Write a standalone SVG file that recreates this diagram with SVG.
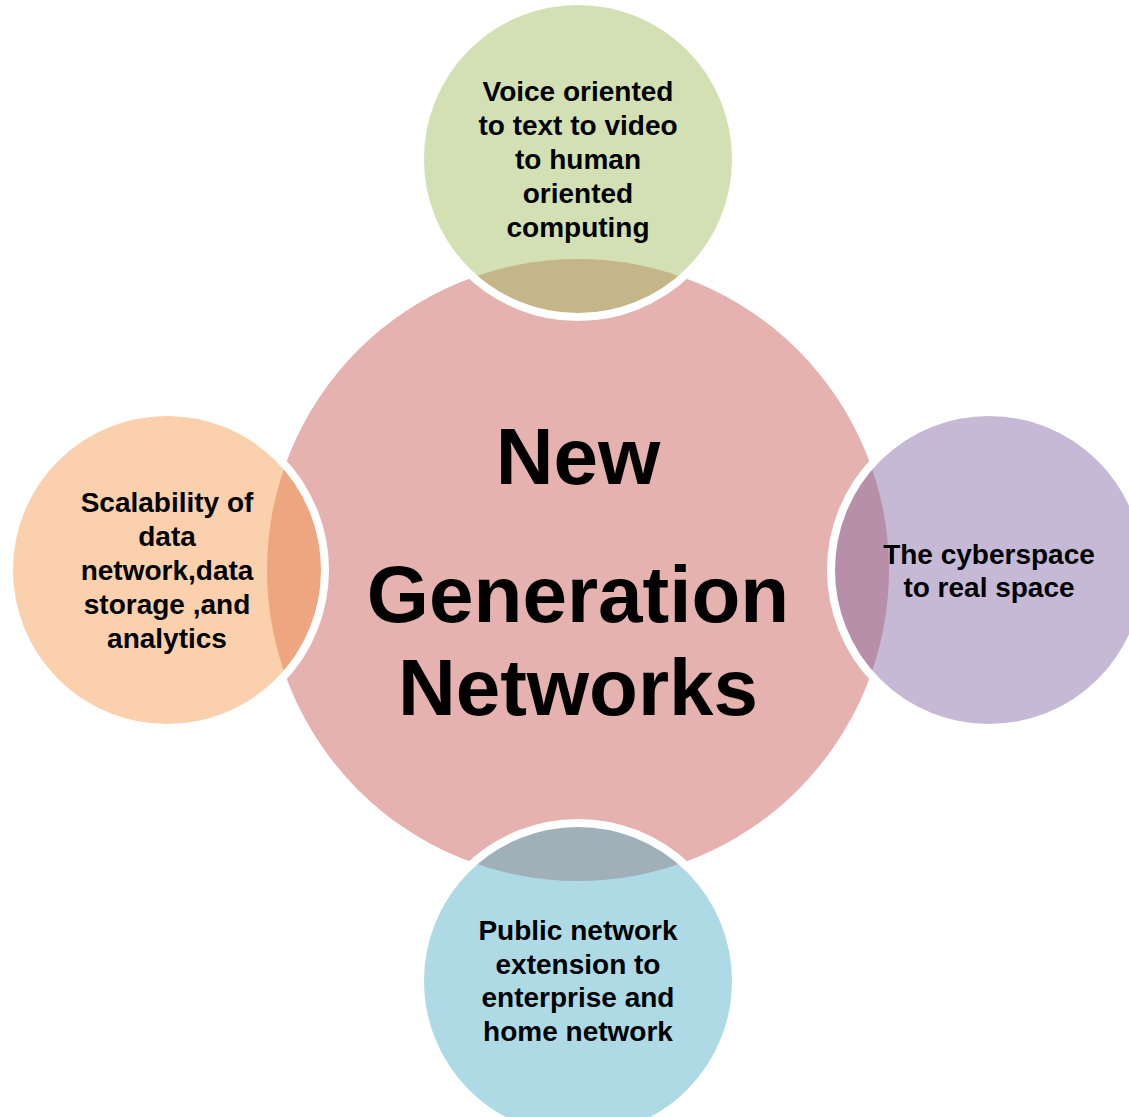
<svg xmlns="http://www.w3.org/2000/svg" width="1129" height="1117" viewBox="0 0 1129 1117">
<style>
.sat{stroke:#ffffff;stroke-width:8;fill-opacity:0.45}
.t{font-family:"Liberation Sans",Arial,sans-serif;font-weight:bold;font-size:28px;fill:#000;text-anchor:middle}
.big{font-family:"Liberation Sans",Arial,sans-serif;font-weight:bold;font-size:80px;fill:#000;text-anchor:middle}
</style>
<rect width="1129" height="1117" fill="#ffffff"/>
<g id="connectors"/>
<g id="center">
<circle cx="578" cy="570" r="311" fill="#e5b2af"/>
</g>
<g id="top">
<circle class="sat" cx="578" cy="159" r="158" fill="#9bbb59"/>
<text class="t" x="578"><tspan x="578" y="101">Voice oriented</tspan><tspan x="578" y="135">to text to video</tspan><tspan x="578" y="169">to human</tspan><tspan x="578" y="203">oriented</tspan><tspan x="578" y="237">computing</tspan></text>
</g>
<g id="right">
<circle class="sat" cx="989" cy="570" r="158" fill="#8064a2"/>
<text class="t" x="989"><tspan x="989" y="564">The cyberspace</tspan><tspan x="989" y="597">to real space</tspan></text>
</g>
<g id="bottom">
<circle class="sat" cx="578" cy="981" r="158" fill="#4bacc6"/>
<text class="t" x="578"><tspan x="578" y="940">Public network</tspan><tspan x="578" y="974">extension to</tspan><tspan x="578" y="1007">enterprise and</tspan><tspan x="578" y="1041">home network</tspan></text>
</g>
<g id="left">
<circle class="sat" cx="167" cy="570" r="158" fill="#f79646"/>
<text class="t" x="167"><tspan x="167" y="512">Scalability of</tspan><tspan x="167" y="546">data</tspan><tspan x="167" y="580">network,data</tspan><tspan x="167" y="614">storage ,and</tspan><tspan x="167" y="648">analytics</tspan></text>
</g>
<g id="center-label">
<text class="big" x="578"><tspan x="578" y="484">New</tspan><tspan x="578" y="622">Generation</tspan><tspan x="578" y="715">Networks</tspan></text>
</g>
</svg>
